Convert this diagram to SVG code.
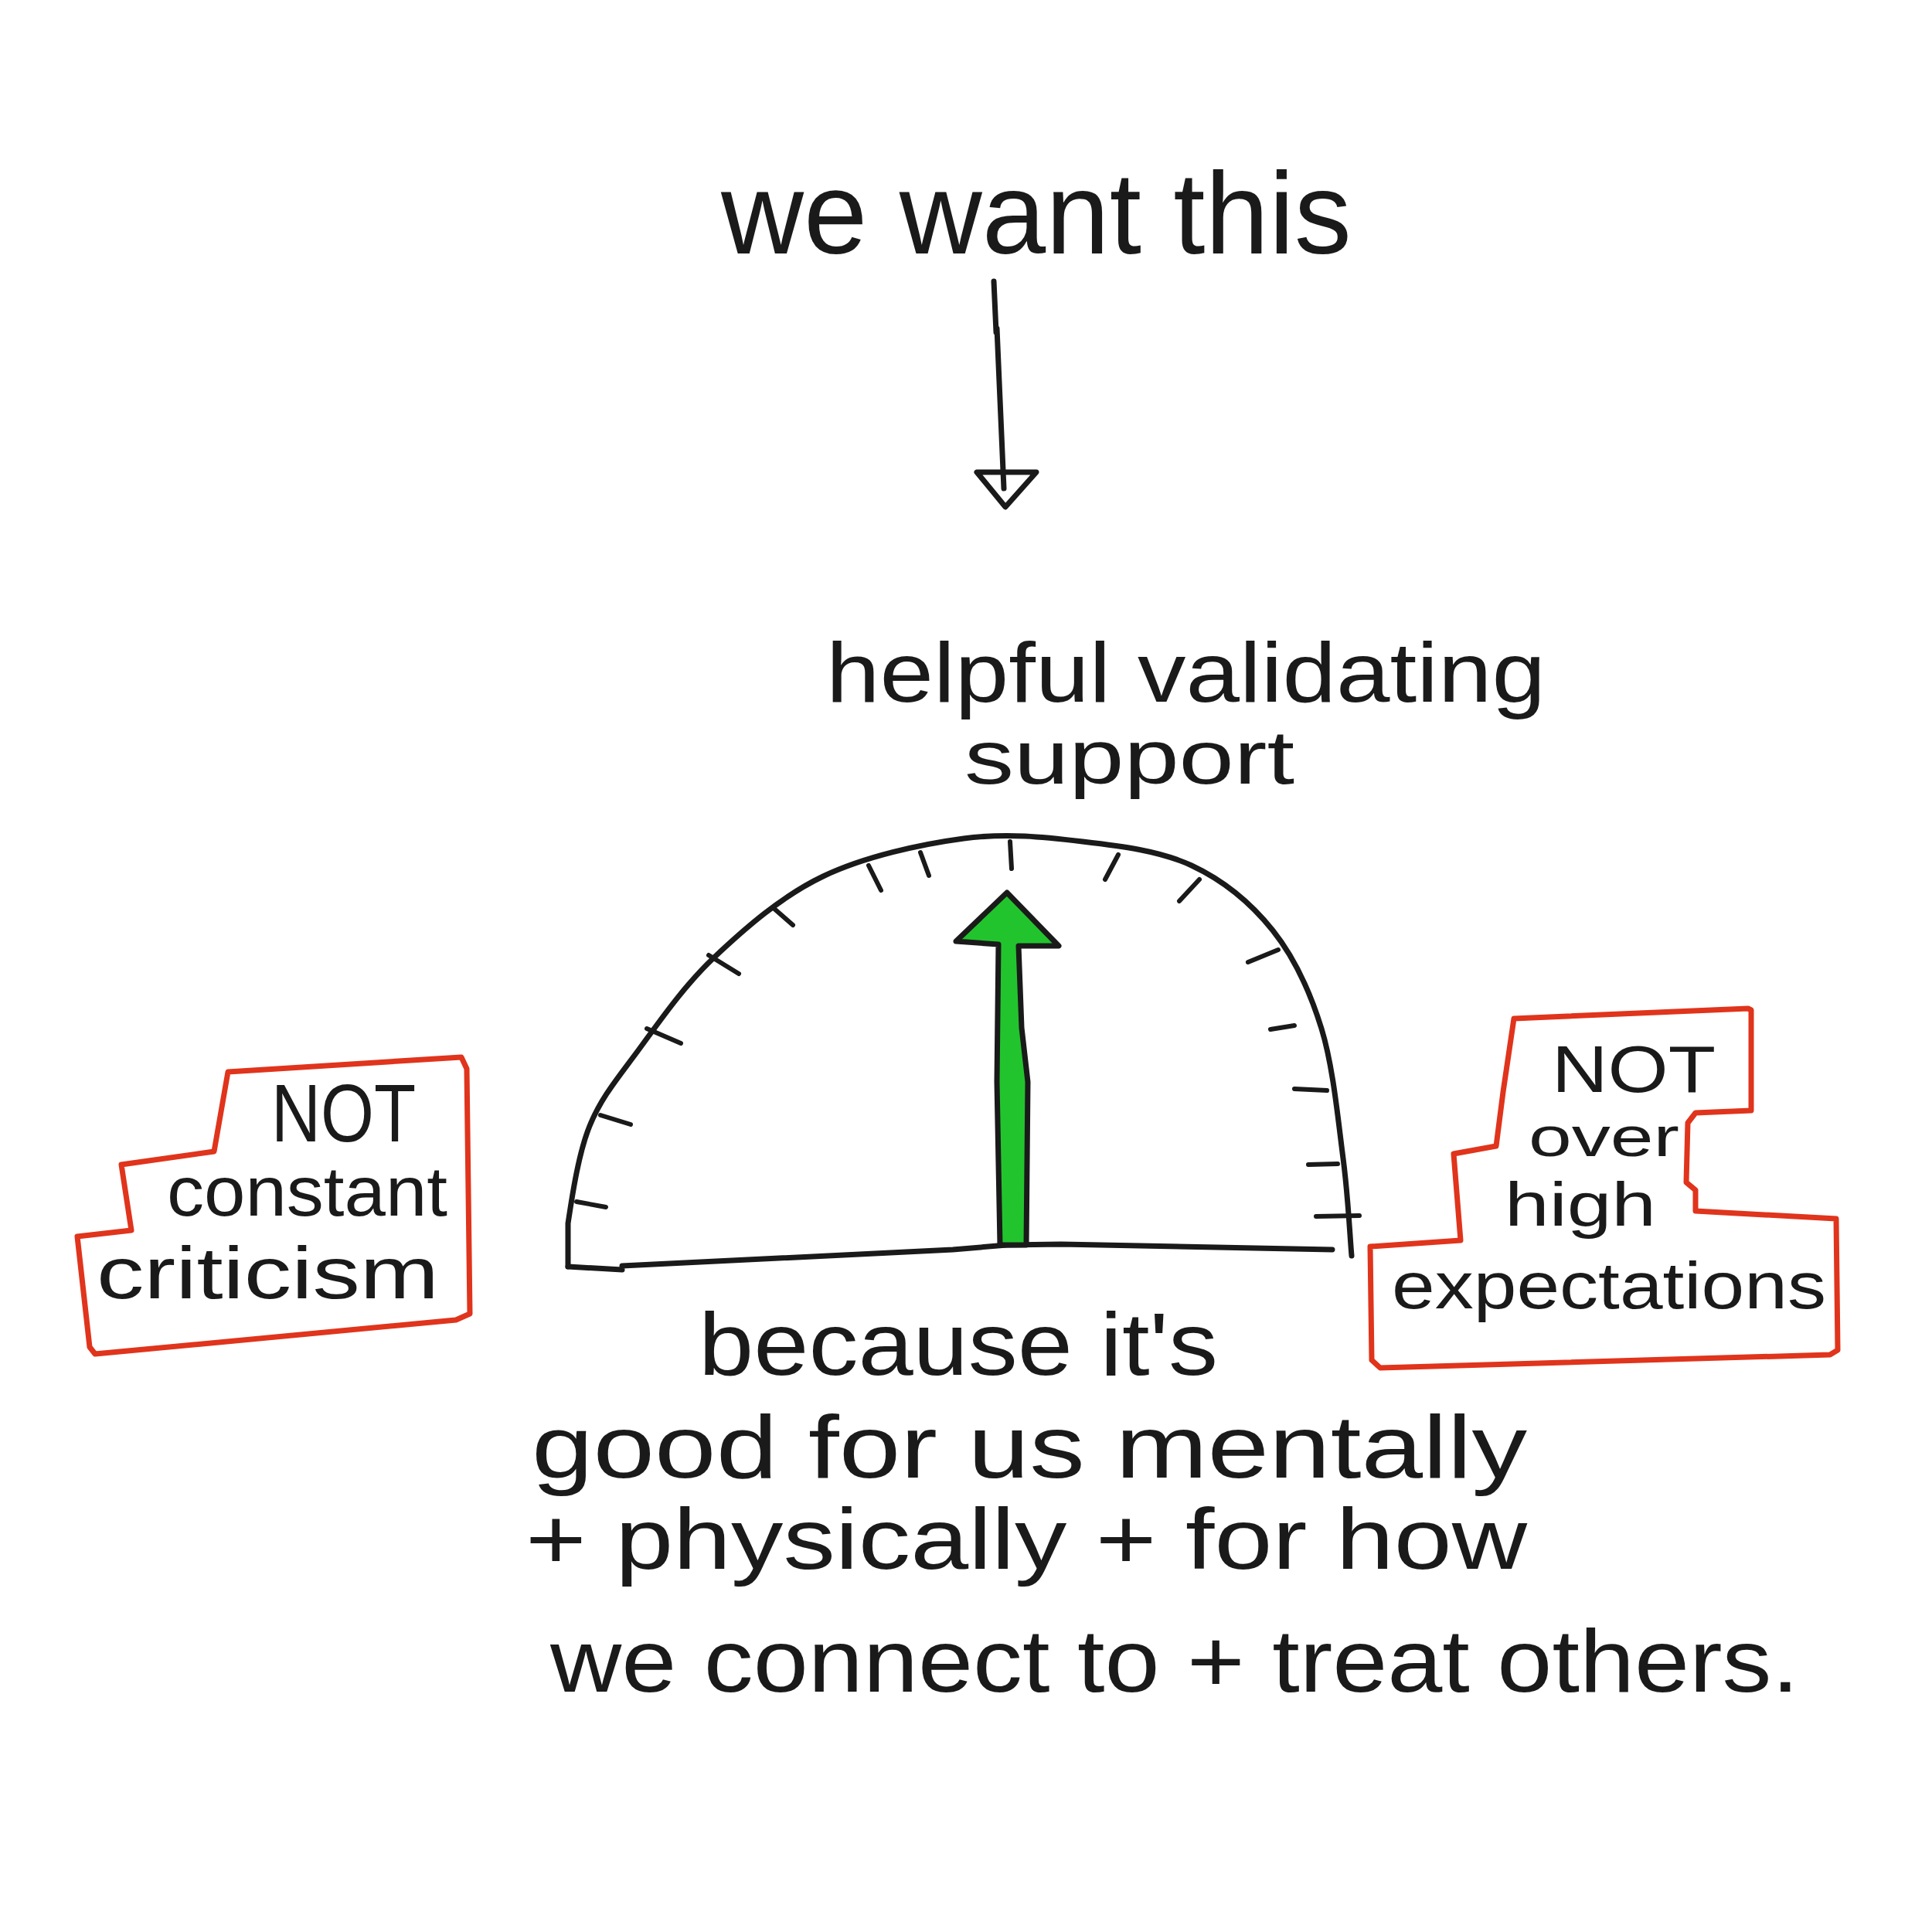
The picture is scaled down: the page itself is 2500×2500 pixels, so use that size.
<svg xmlns="http://www.w3.org/2000/svg" width="2500" height="2500" viewBox="0 0 2500 2500">
<style>
.t{font-family:"Liberation Sans","DejaVu Sans",sans-serif;fill:#1a1a1a}
.ink{fill:none;stroke:#1a1a1a;stroke-width:7;stroke-linecap:round;stroke-linejoin:round}
.tick{fill:none;stroke:#1a1a1a;stroke-width:6;stroke-linecap:round}
.red{fill:none;stroke:#e0341c;stroke-width:7;stroke-linejoin:round;stroke-linecap:round}
</style>
<rect width="2500" height="2500" fill="#ffffff"/>
<g id="title">
<text class="t" x="933" y="328" font-size="150" textLength="816" lengthAdjust="spacingAndGlyphs">we want this</text>
</g>
<g id="connectors">
<path class="ink" d="M1286,364 L1289,430 M1290,425 L1299,632"/>
<path class="ink" stroke-width="5" d="M1264,611 L1341,611 L1301,656 Z"/>
</g>
<g id="label-top">
<text class="t" x="1069" y="908" font-size="110" textLength="931" lengthAdjust="spacingAndGlyphs">helpful validating</text>
<text class="t" x="1248" y="1014" font-size="98" textLength="427" lengthAdjust="spacingAndGlyphs">support</text>
</g>
<g id="gauge">
<path class="ink" stroke-width="8" d="M735,1639 L735,1583 C739.7,1552.7 747.8,1494.3 763,1457 C778.2,1419.7 799.2,1395.3 826,1359 C852.8,1322.7 884.2,1276.5 924,1239 C963.8,1201.5 1011.2,1159.7 1065,1134 C1118.8,1108.3 1191,1092.5 1247,1085 C1303,1077.5 1351.8,1083.2 1401,1089 C1450.2,1094.8 1501,1100.8 1542,1120 C1583,1139.2 1619,1168.8 1647,1204 C1675,1239.2 1694.8,1281.8 1710,1331 C1725.2,1380.2 1731.5,1450 1738,1499 C1744.5,1548 1747,1604 1749,1625"/>
<path class="ink" stroke-width="8" d="M735,1639 L805,1643 M805,1638 L1233,1617 L1303,1611 L1373,1610 L1724,1617"/>
<g>
<line class="tick" x1="746" y1="1555" x2="784" y2="1562"/>
<line class="tick" x1="777" y1="1443" x2="816" y2="1455"/>
<line class="tick" x1="837" y1="1331" x2="881" y2="1350"/>
<line class="tick" x1="917" y1="1236" x2="956" y2="1260"/>
<line class="tick" x1="1002" y1="1176" x2="1026" y2="1197"/>
<line class="tick" x1="1124" y1="1120" x2="1140" y2="1152"/>
<line class="tick" x1="1191" y1="1103" x2="1202" y2="1133"/>
<line class="tick" x1="1307" y1="1089" x2="1309" y2="1124"/>
<line class="tick" x1="1447" y1="1106" x2="1430" y2="1138"/>
<line class="tick" x1="1552" y1="1138" x2="1526" y2="1166"/>
<line class="tick" x1="1654" y1="1229" x2="1615" y2="1245"/>
<line class="tick" x1="1675" y1="1327" x2="1644" y2="1332"/>
<line class="tick" x1="1717" y1="1411" x2="1675" y2="1409"/>
<line class="tick" x1="1731" y1="1506" x2="1693" y2="1507"/>
<line class="tick" x1="1759" y1="1573" x2="1703" y2="1574"/>
</g>
<path d="M1294,1611 L1290,1400 L1292,1222 L1237,1218 L1303,1155 L1370,1224 L1318,1224 L1322,1330 L1330,1400 L1328,1611 Z" fill="#22c42e" stroke="#1a1a1a" stroke-width="7" stroke-linejoin="round"/>
</g>
<g id="box-left">
<path class="red" d="M295,1387 L597,1368 L604,1383 L608,1700 L590,1708 L123,1752 L116,1743 L100,1600 L170,1592 L157,1507 L277,1490 Z"/>
<text class="t" x="351" y="1477" font-size="105" textLength="187" lengthAdjust="spacingAndGlyphs">NOT</text>
<text class="t" x="216" y="1573" font-size="90" textLength="363" lengthAdjust="spacingAndGlyphs">constant</text>
<text class="t" x="125" y="1680" font-size="95" textLength="443" lengthAdjust="spacingAndGlyphs">criticism</text>
</g>
<g id="box-right">
<path class="red" d="M1959,1318 L2262,1305 L2266,1307 L2266,1437 L2194,1440 L2184,1453 L2182,1530 L2194,1540 L2194,1567 L2376,1577 L2378,1747 L2368,1753 L1786,1770 L1775,1760 L1773,1613 L1890,1605 L1881,1493 L1936,1483 L1945,1413 Z"/>
<text class="t" x="2008" y="1413" font-size="86" textLength="212" lengthAdjust="spacingAndGlyphs">NOT</text>
<text class="t" x="1978" y="1496" font-size="72" textLength="195" lengthAdjust="spacingAndGlyphs">over</text>
<text class="t" x="1947" y="1586" font-size="80" textLength="196" lengthAdjust="spacingAndGlyphs">high</text>
<text class="t" x="1801" y="1693" font-size="85" textLength="562" lengthAdjust="spacingAndGlyphs">expectations</text>
</g>
<g id="reason">
<text class="t" x="904" y="1779" font-size="115" textLength="672" lengthAdjust="spacingAndGlyphs">because it's</text>
<text class="t" x="688" y="1912" font-size="115" textLength="1288" lengthAdjust="spacingAndGlyphs">good for us mentally</text>
<text class="t" x="680" y="2030" font-size="112" textLength="1296" lengthAdjust="spacingAndGlyphs">+ physically + for how</text>
<text class="t" x="712" y="2189" font-size="115" textLength="1616" lengthAdjust="spacingAndGlyphs">we connect to + treat others.</text>
</g>
</svg>
